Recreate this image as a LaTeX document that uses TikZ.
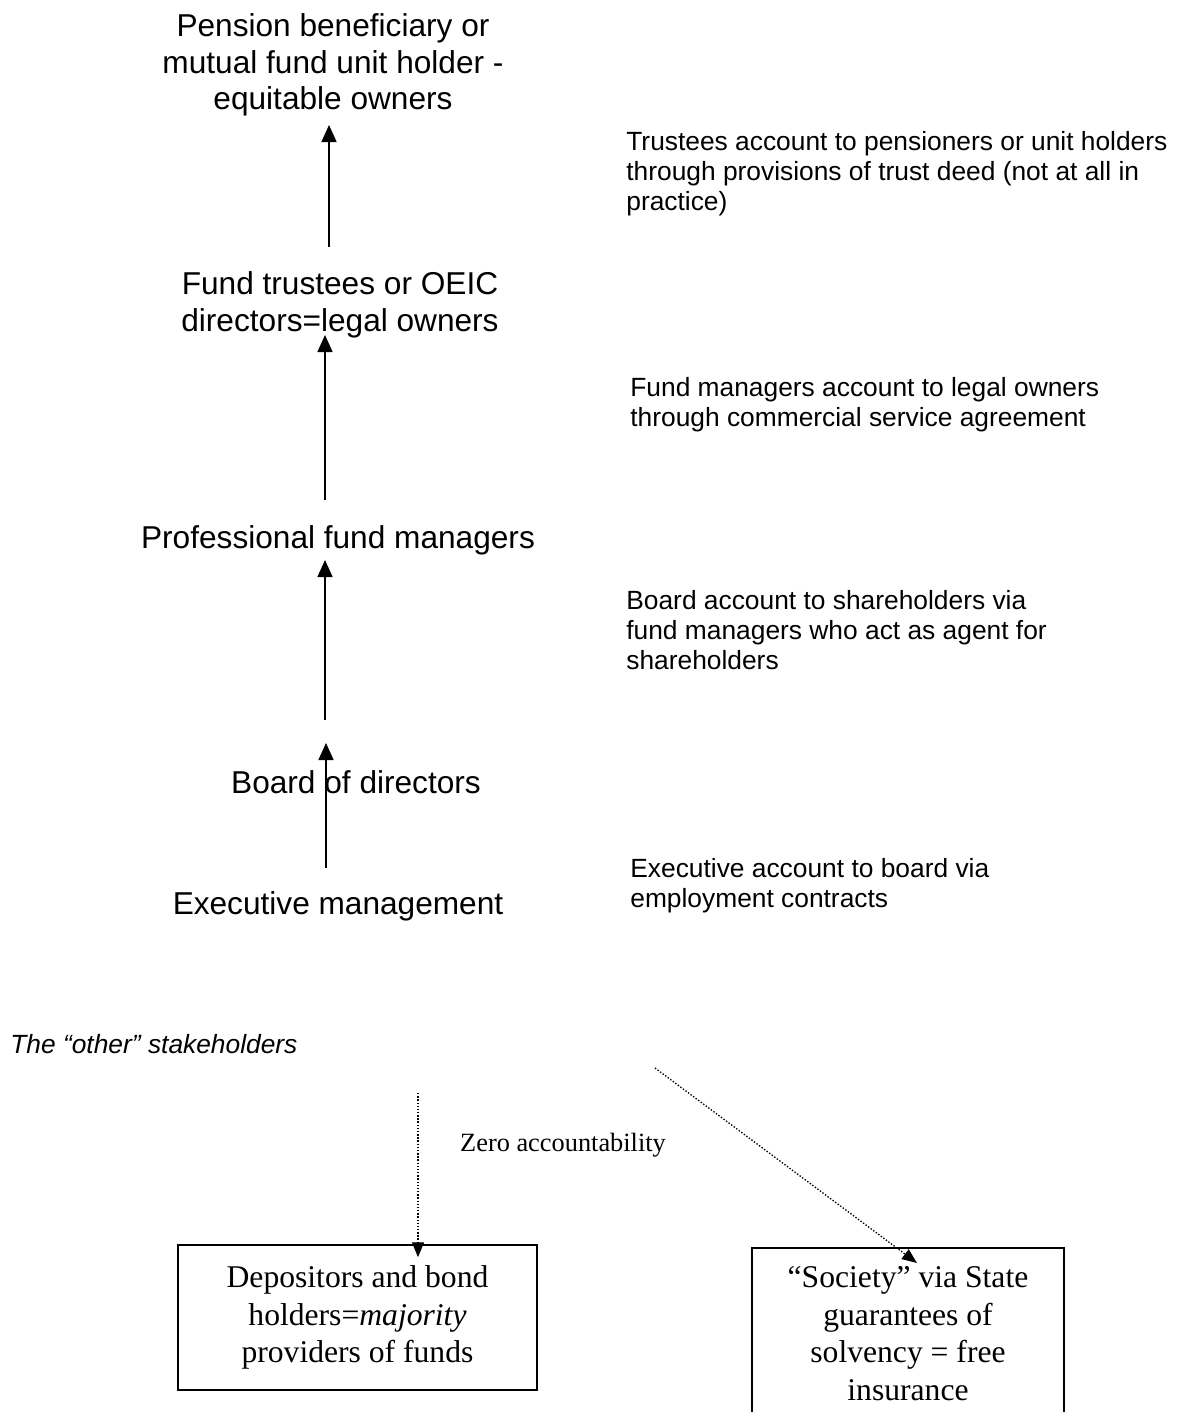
\documentclass[tikz,border=0pt]{standalone}
\usepackage{fontspec}
\setmainfont{Liberation Sans}
\newfontfamily\timesfont{Liberation Serif}
\usetikzlibrary{arrows.meta}

\begin{document}
\begin{tikzpicture}[x=0.02cm, y=-0.02cm,
        level/.style={align=center, inner sep=0pt, font=\fontsize{18}{20.8}\selectfont},
        note/.style={align=left, anchor=west, inner sep=0pt, font=\fontsize{15}{17.1}\selectfont},
        fundbox/.style={draw, line width=0.9pt, align=center, inner ysep=0.38cm, font=\timesfont\fontsize{18}{21.3}\selectfont},
        up/.style={line width=1.1pt, -{Triangle[width=8.5pt, length=9.7pt]}},
        dotarrow/.style={line width=0.75pt, dash pattern=on 0.8pt off 1pt, -{Triangle[width=6.8pt, length=8.5pt]}}]
        \useasboundingbox (0,0) rectangle (1185,1412);

        % chain of accountability
        \node[level] (pension) at (333, 65) {Pension beneficiary or\\ mutual fund unit holder -\\ equitable owners};
        \node[level] (trustees) at (340, 305) {Fund trustees or OEIC\\ directors=legal owners};
        \node[level] (managers) at (338, 540) {Professional fund managers};
        \node[level] (board) at (356, 782) {Board of directors};
        \node[level] (exec) at (338, 906) {Executive management};

        \foreach \i/\x/\a/\b in {1/329/247/125, 2/325/500/335, 3/325/720/560, 4/326/868/743} {
            \coordinate (tail\i) at (\x, \a);
            \coordinate (head\i) at (\x, \b);
            \draw[up] (tail\i) -- (head\i);
        }

        \node[note] (n1) at (626, 174) {Trustees account to pensioners or unit holders\\ through provisions of trust deed (not at all in\\ practice)};
        \node[note] (n2) at (630, 405) {Fund managers account to legal owners\\ through commercial service agreement};
        \node[note] (n3) at (626, 630) {Board account to shareholders via\\ fund managers who act as agent for\\ shareholders};
        \node[note] (n4) at (630, 886) {Executive account to board via\\ employment contracts};

        % other stakeholders
        \node[note, font=\fontsize{15}{17.1}\selectfont\itshape] (others) at (10, 1044) {The “other” stakeholders};
        \node[inner sep=0pt, font=\timesfont\fontsize{15}{17}\selectfont] (zero) at (563, 1145) {Zero accountability};

        \node[fundbox, minimum width=7.18cm, minimum height=2.9cm] (dep) at (357.5, 1317.5) {Depositors and bond\\ holders=\textit{majority}\\ providers of funds};
        \node[fundbox, minimum width=6.24cm, anchor=north] (soc) at (908, 1247) {“Society” via State\\ guarantees of\\ solvency = free\\ insurance};

        \coordinate (zs) at (418, 1093);
        \coordinate (ds) at (655, 1068);
        \draw[dotarrow, shorten >=-0.26cm] (zs) -- (zs |- dep.north);
        \draw[dotarrow] (ds) -- ([shift={(9,16)}]soc.north);
\end{tikzpicture}
\end{document}
